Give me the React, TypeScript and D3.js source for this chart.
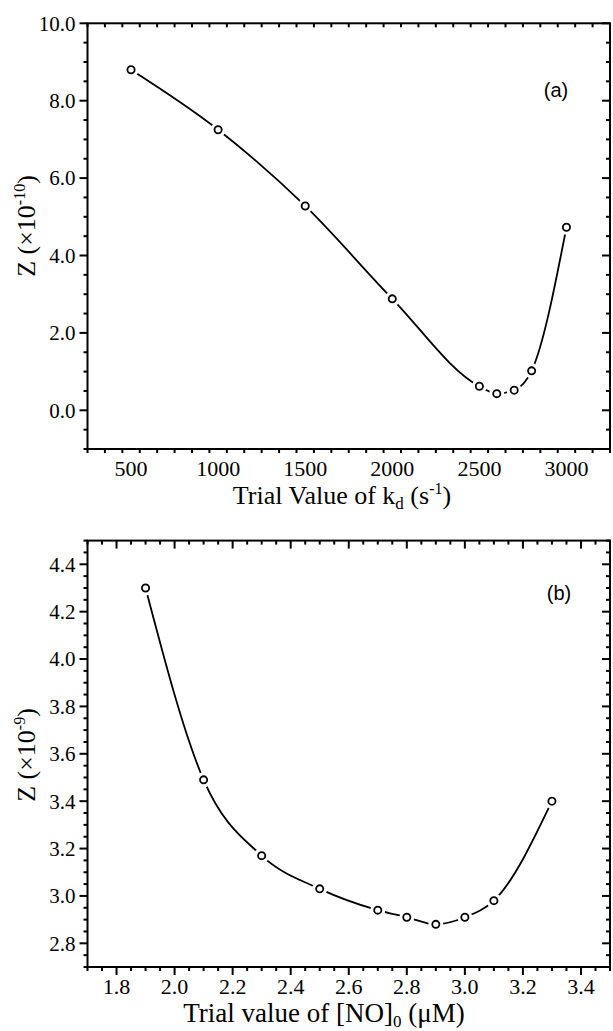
import React from "react";
import * as d3 from "d3";

// ---------- data ----------
const kdValues = [500, 1000, 1500, 2000, 2500, 2600, 2700, 2800, 3000];
const zValuesA = [8.8, 7.25, 5.28, 2.88, 0.62, 0.43, 0.52, 1.02, 4.73];

const noValues = [1.9, 2.1, 2.3, 2.5, 2.7, 2.8, 2.9, 3.0, 3.1, 3.3];
const zValuesB = [4.3, 3.49, 3.17, 3.03, 2.94, 2.91, 2.88, 2.91, 2.98, 3.4];

const xMajorA = [500, 1000, 1500, 2000, 2500, 3000];
const yMajorA = [0, 2, 4, 6, 8, 10];
const xMajorB = [1.8, 2.0, 2.2, 2.4, 2.6, 2.8, 3.0, 3.2, 3.4];
const yMajorB = [2.8, 3.0, 3.2, 3.4, 3.6, 3.8, 4.0, 4.2, 4.4];

const SERIF = "'Liberation Serif', 'Times New Roman', serif";
const SANS = "'Liberation Sans', Arial, sans-serif";

type PanelProps = {
  xs: number[];
  ys: number[];
  xDomain: [number, number];
  yDomain: [number, number];
  xMajor: number[];
  xMinorStep: number;
  yMajor: number[];
  yMinorStep: number;
  xFmt: (v: number) => string;
  yFmt: (v: number) => string;
  box: { left: number; right: number; top: number; bottom: number };
  tag: string;
  tagPos: [number, number];
};

function minorTicks(domain: [number, number], step: number) {
  const n = Math.round((domain[1] - domain[0]) / step);
  const out: number[] = [];
  for (let i = 0; i <= n; i++) out.push(+(domain[0] + i * step).toFixed(6));
  return out;
}

function Panel(p: PanelProps) {
  const x = d3.scaleLinear().domain(p.xDomain).range([p.box.left, p.box.right]);
  const y = d3.scaleLinear().domain(p.yDomain).range([p.box.bottom, p.box.top]);
  const line = d3
    .line<number>()
    .x((_, i) => x(p.xs[i]))
    .y((d) => y(d))
    .curve(d3.curveMonotoneX);
  const xMin = minorTicks(p.xDomain, p.xMinorStep);
  const yMin = minorTicks(p.yDomain, p.yMinorStep);
  const MAJ = 8;
  const MIN = 4;
  const { left, right, top, bottom } = p.box;
  const isMajor = (arr: number[], v: number) => arr.some((m) => Math.abs(m - v) < 1e-6);
  return (
    <g>
      <path d={line(p.ys) || ""} fill="none" stroke="#000" strokeWidth={1.8} />
      {p.ys.map((v, i) => (
        <circle key={"h" + i} cx={x(p.xs[i])} cy={y(v)} r={7.5} fill="#fff" />
      ))}
      {p.ys.map((v, i) => (
        <circle key={"c" + i} cx={x(p.xs[i])} cy={y(v)} r={3.6} fill="#fff" stroke="#000" strokeWidth={1.8} />
      ))}
      <rect x={left} y={top} width={right - left} height={bottom - top} fill="none" stroke="#000" strokeWidth={2} />
      {xMin.map((v, i) => {
        const L = isMajor(p.xMajor, v) ? MAJ : MIN;
        return (
          <g key={"xt" + i}>
            <line x1={x(v)} x2={x(v)} y1={bottom} y2={bottom + L} stroke="#000" strokeWidth={2} />
            <line x1={x(v)} x2={x(v)} y1={top} y2={top + L} stroke="#000" strokeWidth={2} />
          </g>
        );
      })}
      {yMin.map((v, i) => {
        const L = isMajor(p.yMajor, v) ? MAJ : MIN;
        return (
          <g key={"yt" + i}>
            <line x1={left - L} x2={left} y1={y(v)} y2={y(v)} stroke="#000" strokeWidth={2} />
            <line x1={right - L} x2={right} y1={y(v)} y2={y(v)} stroke="#000" strokeWidth={2} />
          </g>
        );
      })}
      {p.xMajor.map((v, i) => (
        <text key={"xl" + i} x={x(v)} y={bottom + 27} textAnchor="middle" fontFamily={SERIF} fontSize={22}>
          {p.xFmt(v)}
        </text>
      ))}
      {p.yMajor.map((v, i) => (
        <text key={"yl" + i} x={left - 12} y={y(v)} dy="0.35em" textAnchor="end" fontFamily={SERIF} fontSize={21}>
          {p.yFmt(v)}
        </text>
      ))}
      <text x={p.tagPos[0]} y={p.tagPos[1]} textAnchor="middle" fontFamily={SANS} fontSize={20}>
        {p.tag}
      </text>
    </g>
  );
}

export default function App() {
  const fmt1 = d3.format(".1f");
  const fmt0 = d3.format("d");
  return (
    <svg
      width={613}
      height={1031}
      style={{ position: "absolute", left: 0, top: 0, background: "#fff" }}
    >
      <rect width={613} height={1031} fill="#fff" />
      <Panel
        xs={kdValues}
        ys={zValuesA}
        xDomain={[250, 3250]}
        yDomain={[-1, 10]}
        xMajor={xMajorA}
        xMinorStep={100}
        yMajor={yMajorA}
        yMinorStep={0.5}
        xFmt={fmt0}
        yFmt={fmt1}
        box={{ left: 87.5, right: 610, top: 23.3, bottom: 449 }}
        tag="(a)"
        tagPos={[556, 97]}
      />
      <Panel
        xs={noValues}
        ys={zValuesB}
        xDomain={[1.7, 3.5]}
        yDomain={[2.7, 4.5]}
        xMajor={xMajorB}
        xMinorStep={0.05}
        yMajor={yMajorB}
        yMinorStep={0.05}
        xFmt={fmt1}
        yFmt={fmt1}
        box={{ left: 87.5, right: 610, top: 540.6, bottom: 967 }}
        tag="(b)"
        tagPos={[559, 600]}
      />
      {/* axis titles */}
      <text x={342} y={504} textAnchor="middle" fontFamily={SERIF} fontSize={26}>
        Trial Value of k
        <tspan fontSize={17} dy={5}>d</tspan>
        <tspan dy={-5}> (s</tspan>
        <tspan fontSize={16} dy={-10}>-1</tspan>
        <tspan dy={10}>)</tspan>
      </text>
      <text x={324} y={1022} textAnchor="middle" fontFamily={SERIF} fontSize={27}>
        Trial value of [NO]
        <tspan fontSize={17} dy={5}>0</tspan>
        <tspan dy={-5}> (μM)</tspan>
      </text>
      <text transform="translate(35,226) rotate(-90)" textAnchor="middle" fontFamily={SERIF} fontSize={26}>
        Z (×10
        <tspan fontSize={16} dy={-10}>-10</tspan>
        <tspan dy={10}>)</tspan>
      </text>
      <text transform="translate(35,755) rotate(-90)" textAnchor="middle" fontFamily={SERIF} fontSize={26}>
        Z (×10
        <tspan fontSize={16} dy={-10}>-9</tspan>
        <tspan dy={10}>)</tspan>
      </text>
    </svg>
  );
}
